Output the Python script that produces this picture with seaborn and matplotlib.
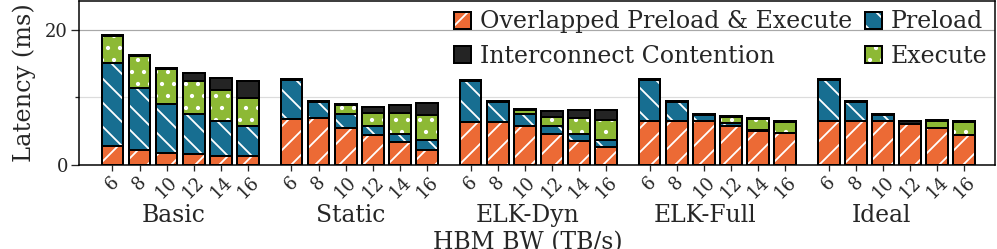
import numpy as np
import pandas as pd
import matplotlib
matplotlib.use("Agg")
import matplotlib.pyplot as plt
import matplotlib.patches as mpatches
import matplotlib.colors as mcolors
from matplotlib.ticker import FixedLocator
import seaborn as sns

# ---------------- data ----------------
systems = ["Basic", "Static", "ELK-Dyn", "ELK-Full", "Ideal"]
bandwidths = ["6", "8", "10", "12", "14", "16"]

overlapped = [2.7, 2.1, 1.7, 1.5, 1.3, 1.2,
              6.8, 6.85, 5.4, 4.45, 3.3, 2.2,
              6.35, 6.3, 5.7, 4.6, 3.45, 2.6,
              6.4, 6.4, 6.4, 5.7, 4.95, 4.7,
              6.4, 6.4, 6.4, 6.0, 5.4, 4.45]
preload = [12.4, 9.3, 7.3, 6.0, 5.2, 4.45,
           5.7, 2.4, 2.05, 1.25, 1.3, 1.5,
           6.1, 3.0, 1.8, 1.1, 1.15, 1.1,
           6.1, 2.85, 1.0, 0.4, 0.2, 0.0,
           6.1, 2.9, 1.0, 0.0, 0.0, 0.0]
execute = [4.0, 4.7, 5.2, 4.95, 4.55, 4.3,
           0.0, 0.0, 1.4, 1.95, 3.05, 3.7,
           0.0, 0.0, 0.65, 1.4, 2.3, 2.95,
           0.0, 0.0, 0.0, 1.0, 1.55, 1.6,
           0.0, 0.0, 0.0, 0.0, 1.0, 1.9]
contention = [0.15, 0.15, 0.15, 1.1, 1.75, 2.45,
              0.15, 0.15, 0.15, 0.95, 1.15, 1.75,
              0.15, 0.15, 0.15, 0.85, 1.2, 1.45,
              0.15, 0.15, 0.15, 0.15, 0.15, 0.15,
              0.15, 0.15, 0.15, 0.45, 0.15, 0.15]

series_names = ["Overlapped Preload & Execute", "Preload", "Execute", "Interconnect Contention"]
series_colors = ["#EC6A35", "#176E91", "#8DB935", "#242424"]
series_hatches = ["/", "\\", ".", None]

# ---------------- style ----------------
sns.set_theme(style="white")
plt.rcParams["font.family"] = ["DejaVu Serif"]
plt.rcParams["hatch.linewidth"] = 1.8
plt.rcParams["axes.edgecolor"] = "black"
plt.rcParams["axes.linewidth"] = 1.5

DPI = 72
fig = plt.figure(figsize=(997 / DPI, 249 / DPI), dpi=DPI)
ax = fig.add_axes([79 / 997, 1 - 164.5 / 249, (995 - 79) / 997, (164.5 - 1) / 249])

group_step = 6.6
n_bw = len(bandwidths)
pos = [g * group_step + i for g in range(len(systems)) for i in range(n_bw)]

df = pd.DataFrame({"pos": pos, "o": overlapped, "p": preload, "e": execute, "c": contention})
cums = [df["o"],
        df["o"] + df["p"],
        df["o"] + df["p"] + df["e"],
        df["o"] + df["p"] + df["e"] + df["c"]]

white = mcolors.to_rgba("white")


def set_hatch_white(patch):
    if hasattr(patch, "set_hatchcolor"):
        patch.set_hatchcolor("white")
    else:
        patch._hatch_color = white


# draw cumulative layers from top to bottom
for k in [3, 2, 1, 0]:
    n0 = len(ax.patches)
    sns.barplot(x=df["pos"], y=cums[k], native_scale=True, color=series_colors[k],
                saturation=1, errorbar=None, edgecolor="black", linewidth=2,
                hatch=series_hatches[k], ax=ax, zorder=3)
    for p in ax.patches[n0:]:
        set_hatch_white(p)

# axes limits / ticks
ax.set_xlim(-1.23, pos[-1] + 1.13)
ax.set_ylim(0, 24.3)
ax.yaxis.set_major_locator(FixedLocator([0, 20]))
ax.yaxis.set_minor_locator(FixedLocator([10]))
ax.set_yticklabels(["0", "20"], fontsize=18)
ax.tick_params(axis="y", which="major", length=8, width=1.3, left=True, pad=3)
ax.tick_params(axis="y", which="minor", length=4, width=1.3, left=True)
ax.grid(True, axis="y", which="major", color="#a8a8a8", linewidth=1.2, zorder=0)
ax.grid(True, axis="y", which="minor", color="#dcdcdc", linewidth=1.2, zorder=0)
ax.grid(False, axis="x")
ax.set_axisbelow(True)

ax.set_xticks(pos)
ax.set_xticklabels(bandwidths * len(systems), rotation=45, fontsize=18)
ax.tick_params(axis="x", length=6, width=1.3, bottom=True, pad=2)

for s in ax.spines.values():
    s.set_visible(True)
    s.set_color("black")
    s.set_linewidth(1.5)

ax.set_ylabel("Latency (ms)", fontsize=24)
ax.yaxis.set_label_coords(-0.047, 0.5)
ax.set_xlabel("HBM BW (TB/s)", fontsize=23.5)
ax.xaxis.set_label_coords(0.49, -0.407)

# group labels
trans = matplotlib.transforms.blended_transform_factory(ax.transData, ax.transAxes)
for g, name in enumerate(systems):
    ax.text(g * 6.52 + 2.27, -0.35, name, transform=trans, ha="center", va="baseline", fontsize=23.5)

# legend
handles = []
for k in range(4):
    h = mpatches.Patch(facecolor=series_colors[k], edgecolor="black", linewidth=2,
                       hatch=series_hatches[k], label=series_names[k])
    set_hatch_white(h)
    handles.append(h)
order = [0, 3, 1, 2]
ax.legend([handles[i] for i in order], [series_names[i] for i in order], ncol=2,
          frameon=False, loc="upper right", bbox_to_anchor=(0.994, 0.957), borderaxespad=0,
          borderpad=0.1, fontsize=23.8, handlelength=0.72, handleheight=0.72,
          handletextpad=0.35, columnspacing=0.55, labelspacing=0.47)

fig.savefig("out.png", dpi=DPI)
